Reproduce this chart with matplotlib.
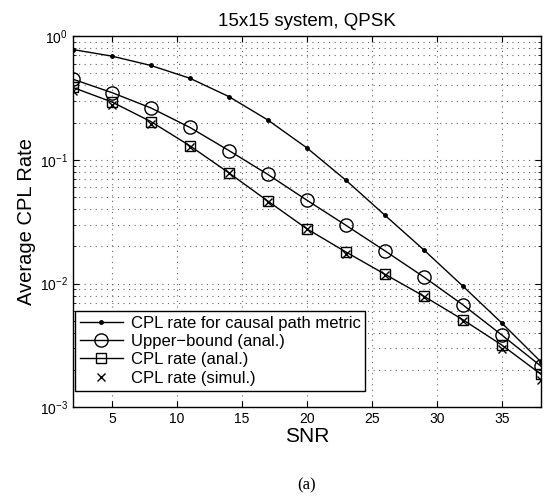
""" CPL rate vs SNR for a 15x15 QPSK system
"""

import numpy as np
import matplotlib
matplotlib.use('Agg')
import matplotlib.pyplot as plt
from matplotlib.ticker import LogLocator, NullFormatter

# Data
snr = [2, 5, 8, 11, 14, 17, 20, 23, 26, 29, 32, 35, 38]
causal = [0.78, 0.69, 0.58, 0.457, 0.325, 0.21, 0.125, 0.0685, 0.0357,
          0.0187, 0.00953, 0.00479, 0.00233]
upper = [0.449, 0.35, 0.263, 0.183, 0.119, 0.0762, 0.0472, 0.0296, 0.0184,
         0.0113, 0.00673, 0.00383, 0.00215]
anal = [0.385, 0.294, 0.204, 0.13, 0.0785, 0.0464, 0.0277, 0.018, 0.0119,
        0.0079, 0.0051, 0.00318, 0.00185]
simul = [0.361, 0.277, 0.194, 0.128, 0.078, 0.046, 0.0275, 0.0173, 0.0118,
         0.0078, 0.005, 0.00293, 0.00166]
labels = ['CPL rate for causal path metric', 'Upper\u2212bound (anal.)',
          'CPL rate (anal.)', 'CPL rate (simul.)']

plt.rcParams['font.family'] = ['Liberation Sans', 'DejaVu Sans']
plt.rcParams['mathtext.fontset'] = 'custom'
plt.rcParams['mathtext.rm'] = 'Liberation Sans'

fig = plt.figure(figsize=(5.48, 4.96), dpi=100)
ax = fig.add_axes([0.133, 0.179, 0.854, 0.748])

ax.semilogy(snr, causal, 'k-', marker='.', markersize=5, lw=1,
            label=labels[0])
ax.semilogy(snr, upper, 'k-', marker='o', markersize=9.5, mfc='none',
            mew=1, lw=1, label=labels[1])
ax.semilogy(snr, anal, 'k-', marker='s', markersize=7, mfc='none',
            mew=1, lw=1, label=labels[2])
ax.semilogy(snr, simul, 'kx', markersize=6, mew=1, label=labels[3])

ax.set_xlim(2, 38)
ax.set_ylim(1e-3, 1)
ax.set_xticks([5, 10, 15, 20, 25, 30, 35])
ax.yaxis.set_major_locator(LogLocator(base=10))
ax.yaxis.set_minor_locator(LogLocator(base=10, subs=np.arange(2, 10)))
ax.yaxis.set_minor_formatter(NullFormatter())

# MATLAB style sparse dotted grid
gstyle = dict(color='0.4', ls=(0, (1, 4)), lw=0.8)
ax.grid(True, which='major', axis='both', **gstyle)
ax.grid(True, which='minor', axis='y', **gstyle)
ax.tick_params(which='both', direction='in', top=True, right=True,
               labelsize=10)
ax.tick_params(which='major', length=4)
ax.tick_params(which='minor', length=2)
for s in ax.spines.values():
    s.set_linewidth(1)

ax.set_xlabel('SNR', fontsize=15, labelpad=1)
ax.set_ylabel('Average CPL Rate', fontsize=14.5, labelpad=3)
ax.set_title('15x15 system, QPSK', fontsize=13.5, pad=7)

leg = ax.legend(loc='lower left', bbox_to_anchor=(0.004, 0.045),
                borderaxespad=0, fontsize=12, fancybox=False,
                framealpha=1, edgecolor='k', handlelength=2.6,
                handletextpad=0.45, labelspacing=0.2, borderpad=0.3)
leg.get_frame().set_linewidth(1)

fig.text(0.56, 0.022, '(a)', ha='center', va='center', fontsize=12,
         family=['Liberation Serif', 'DejaVu Serif'])

plt.savefig('out.png', dpi=100)
